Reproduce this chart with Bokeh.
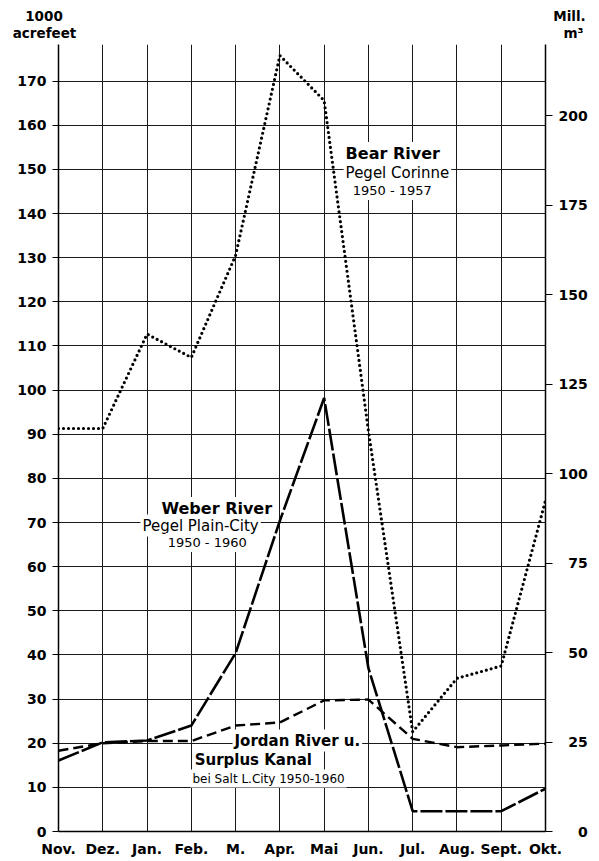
from bokeh.plotting import figure
from bokeh.layouts import column
from bokeh.models import Range1d, LinearAxis, FixedTicker, Label
from bokeh.embed import file_html
from bokeh.resources import INLINE

# ---- data (1000 acrefeet) ----
months = ["Nov.", "Dez.", "Jan.", "Feb.", "M.", "Apr.", "Mai", "Jun.", "Jul.", "Aug.", "Sept.", "Okt."]
bear_river = [91.3, 91.3, 112.7, 107.4, 130.5, 175.8, 165.6, 90.8, 22.6, 34.7, 37.5, 75.0]
weber_river = [16.1, 20.2, 20.6, 24.0, 40.4, 70.4, 98.2, 37.0, 4.6, 4.6, 4.6, 9.7]
jordan_river = [18.3, 20.0, 20.5, 20.5, 24.0, 24.7, 29.7, 29.9, 21.0, 19.1, 19.5, 19.9]
left_ticks = list(range(0, 171, 10))
right_ticks = [0, 25, 50, 75, 100, 125, 150, 175, 200]
M3_PER_KAF = 1.2335  # Mill. m3 per 1000 acrefeet

FONT = "DejaVu Sans"
Y_END = 178.3
W = 599
HEAD_H = 44
xs = list(range(len(months)))

# ---- header strip with the unit captions ----
head = figure(width=W, height=HEAD_H, output_backend="svg", toolbar_location=None,
              x_range=Range1d(0, W), y_range=Range1d(HEAD_H, 0),
              x_axis_location=None, y_axis_location=None,
              min_border=0, min_border_left=0, min_border_right=0,
              min_border_top=0, min_border_bottom=0, outline_line_color=None)
head.grid.visible = False
for x, y, t in [(43.5, 15, "1000"), (44, 32, "acrefeet"), (569, 15, "Mill."), (573, 32, "m³")]:
    head.add_layout(Label(x=x, y=y, text=t, text_font=FONT, text_font_size="13.5px",
                          text_font_style="bold", text_color="black",
                          text_align="center", text_baseline="middle"))

# ---- main chart ----
p = figure(width=W, height=861 - HEAD_H, output_backend="svg", toolbar_location=None,
           x_range=Range1d(0, len(months) - 1), y_range=Range1d(0, Y_END),
           min_border_left=58, min_border_right=54, min_border_top=0, min_border_bottom=30,
           outline_line_color=None, background_fill_color="white")

for fig in (head, p):
    try:
        fig.frame_align = False
    except Exception:
        pass

p.extra_y_ranges = {"m3": Range1d(0, Y_END * M3_PER_KAF)}

# grids
p.xgrid.ticker = FixedTicker(ticks=xs)
p.ygrid.ticker = FixedTicker(ticks=left_ticks)
for g in (p.xgrid[0], p.ygrid[0]):
    g.grid_line_color = "#1a1a1a"
    g.grid_line_width = 1

def style_axis(ax, tick_out):
    ax.minor_tick_line_color = None
    ax.major_tick_out = tick_out
    ax.major_tick_in = 0
    ax.axis_line_width = 1.5
    ax.axis_line_color = "black"
    ax.major_tick_line_color = "black"
    ax.major_label_text_font = FONT
    ax.major_label_text_font_style = "bold"
    ax.major_label_text_font_size = "14px"
    ax.major_label_text_color = "black"

# left axis
ya = p.yaxis[0]
ya.ticker = FixedTicker(ticks=left_ticks)
style_axis(ya, 6)
ya.major_label_standoff = 6

# bottom axis
xa = p.xaxis[0]
xa.ticker = FixedTicker(ticks=xs)
xa.major_label_overrides = {i: m for i, m in enumerate(months)}
style_axis(xa, 0)
xa.major_label_standoff = 9

# right axis (Mill. m3), labels right-aligned with figure spaces
ra = LinearAxis(y_range_name="m3", ticker=FixedTicker(ticks=right_ticks))
style_axis(ra, 7)
ra.major_label_standoff = 6
ra.major_label_overrides = {t: str(t).rjust(3, "\u2007") for t in right_ticks}
p.add_layout(ra, "right")

# series
p.line(xs, bear_river, line_color="black", line_width=3.2, line_dash="0 5", line_cap="round")
p.line(xs, weber_river, line_color="black", line_width=2.6, line_dash="22 3")
p.line(xs, jordan_river, line_color="black", line_width=2.4, line_dash="10 5")

# annotations
def lab(x, y, text, size, bold=False):
    p.add_layout(Label(x=x, y=y, text=text, text_font=FONT, text_font_size=size,
                       text_font_style="bold" if bold else "normal", text_color="black",
                       text_align="left", text_baseline="middle",
                       background_fill_color="white", level="underlay", padding=2))

lab(6.44, 153.6, "Bear River", "16px", True)
lab(6.44, 149.3, "Pegel Corinne", "15px")
lab(6.60, 145.2, "1950 - 1957", "13px")

lab(2.28, 73.2, "Weber River", "16px", True)
lab(1.85, 69.3, "Pegel Plain-City", "15px")
lab(2.42, 65.5, "1950 - 1960", "13px")

lab(3.93, 20.6, "Jordan River u.", "15px", True)
lab(3.03, 16.1, "Surplus Kanal", "15px", True)
lab(2.98, 12.0, "bei Salt L.City 1950-1960", "12px")

layout = column(head, p, spacing=0)
open("out.html", "w").write(file_html(layout, INLINE))
